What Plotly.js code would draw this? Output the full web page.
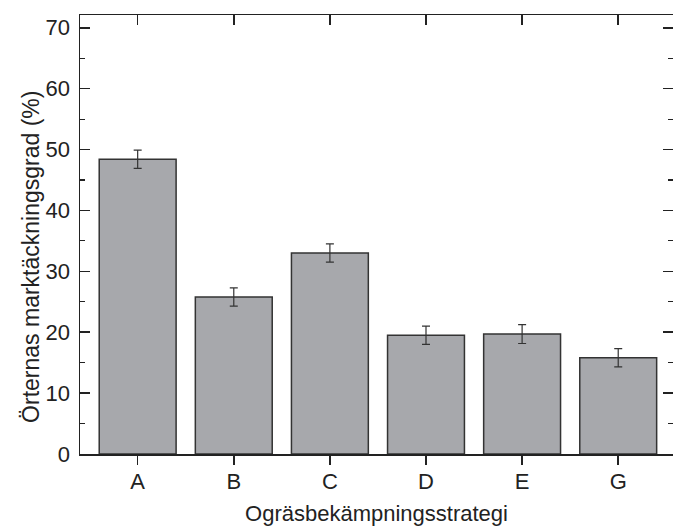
<!DOCTYPE html>
<html>
<head>
<meta charset="utf-8">
<script src="https://cdn.plot.ly/plotly-3.0.1.min.js"></script>
<style>html,body{margin:0;padding:0;background:#fff;}#chart{width:673px;height:526px;}</style>
</head>
<body>
<div id="chart"></div>
<script>
const categories = ['A', 'B', 'C', 'D', 'E', 'G'];
const coverage = [48.4, 25.8, 33.0, 19.5, 19.7, 15.8];
const errors = [1.5, 1.5, 1.5, 1.5, 1.55, 1.5];
const yTickVals = [0, 10, 20, 30, 40, 50, 60, 70];
const xTitle = 'Ogräsbekämpningsstrategi';
const yTitle = 'Örternas marktäckningsgrad (%)';

const fontFam = 'Liberation Sans, Arial, sans-serif';
const lineCol = '#222';
const fs = 22;

const traces = [
  {
    type: 'bar',
    x: categories,
    y: coverage,
    width: 0.8,
    marker: {color: '#a7a8ac', line: {color: '#333', width: 1.5}},
    error_y: {type: 'data', array: errors, visible: true, color: '#333', thickness: 1.2, width: 4},
    hoverinfo: 'none'
  },
  {
    type: 'scatter',
    mode: 'none',
    x: categories,
    y: coverage,
    xaxis: 'x2',
    yaxis: 'y',
    hoverinfo: 'none',
    showlegend: false
  }
];

const layout = {
  width: 673,
  height: 526,
  margin: {l: 80, r: 0, t: 15, b: 72, pad: 0},
  paper_bgcolor: '#fff',
  plot_bgcolor: '#fff',
  showlegend: false,
  font: {family: fontFam, color: lineCol, size: fs},
  xaxis: {
    type: 'category',
    categoryorder: 'array',
    categoryarray: categories,
    range: [-0.6, 5.57],
    showline: true,
    linecolor: lineCol,
    linewidth: 1.5,
    ticks: 'outside',
    ticklen: 9,
    tickwidth: 1.5,
    tickcolor: lineCol,
    showgrid: false,
    zeroline: false,
    tickfont: {size: fs, family: fontFam, color: lineCol},
    ticklabelstandoff: -2,
    title: {text: xTitle, font: {size: fs, family: fontFam, color: lineCol}, standoff: 17}
  },
  xaxis2: {
    type: 'category',
    categoryorder: 'array',
    categoryarray: categories,
    overlaying: 'x',
    side: 'top',
    anchor: 'y',
    range: [-0.6, 5.57],
    showline: true,
    linecolor: lineCol,
    linewidth: 1.5,
    ticks: 'inside',
    ticklen: 10,
    tickwidth: 1.5,
    tickcolor: lineCol,
    showticklabels: false,
    showgrid: false,
    zeroline: false
  },
  yaxis: {
    range: [0, 72.1],
    tickvals: yTickVals,
    showline: true,
    linecolor: lineCol,
    linewidth: 1.5,
    mirror: 'ticks',
    ticks: 'inside',
    ticklen: 10,
    tickwidth: 1.5,
    tickcolor: lineCol,
    minor: {dtick: 5, ticks: 'inside', ticklen: 5, tickwidth: 1.2, tickcolor: lineCol},
    showgrid: false,
    zeroline: false,
    tickfont: {size: fs, family: fontFam, color: lineCol},
    ticklabelstandoff: 4
  },
  annotations: [{
    text: yTitle,
    xref: 'paper', yref: 'paper',
    x: 0, y: 0.449,
    xanchor: 'center', yanchor: 'middle',
    xshift: -49,
    textangle: -90,
    showarrow: false,
    font: {size: 23, family: fontFam, color: lineCol}
  }]
};

Plotly.newPlot('chart', traces, layout, {staticPlot: true, displayModeBar: false});
</script>
</body>
</html>
